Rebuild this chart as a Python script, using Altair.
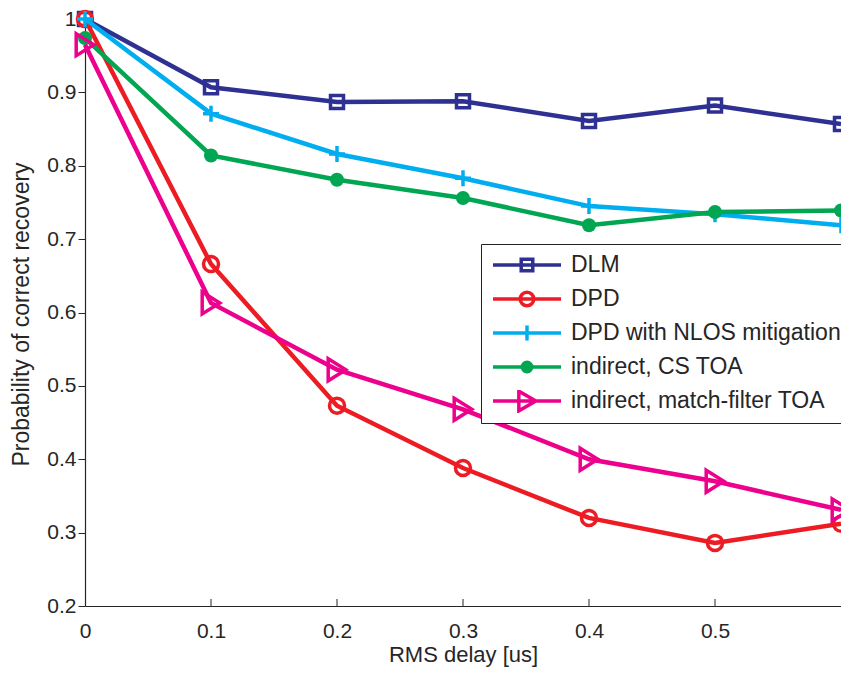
import altair as alt
import pandas as pd

# ---------------- data ----------------
x_vals = [0.0, 0.1, 0.2, 0.3, 0.4, 0.5, 0.6]
series_names = ["DLM", "DPD", "DPD with NLOS mitigation",
                "indirect, CS TOA", "indirect, match-filter TOA"]
dlm = [1.0, 0.907, 0.887, 0.888, 0.861, 0.882, 0.857]
dpd = [1.0, 0.666, 0.473, 0.388, 0.320, 0.286, 0.312]
nlos = [1.0, 0.871, 0.816, 0.783, 0.745, 0.734, 0.719]
cs_toa = [0.974, 0.814, 0.781, 0.756, 0.719, 0.737, 0.739]
mf_toa = [0.965, 0.613, 0.522, 0.468, 0.400, 0.370, 0.331]
x_ticks = [0.0, 0.1, 0.2, 0.3, 0.4, 0.5]
y_ticks = [0.2, 0.3, 0.4, 0.5, 0.6, 0.7, 0.8, 0.9, 1.0]

colors = ["#2E3192", "#ED1C24", "#00AEEF", "#00A651", "#EC008C"]

values = [dlm, dpd, nlos, cs_toa, mf_toa]
rows = []
for name, ys in zip(series_names, values):
    for xv, yv in zip(x_vals, ys):
        rows.append({"x": xv, "y": yv, "series": name})
df = pd.DataFrame(rows)
legend_df = pd.DataFrame({"series": series_names})
tick_df = pd.DataFrame({"x": x_ticks[1:]})

# ---------------- styles ----------------
FONT = "Liberation Sans"
TXT = "#262626"
PLOT_W, PLOT_H = 756, 587

cross_path = "M-1,0H1M0,-1V1"
tri_path = "M-0.8,-1L0.8,0L-0.8,1Z"
marker_styles = [
    dict(shape="square", filled=False, size=169),
    dict(shape="circle", filled=False, size=225),
    dict(shape=cross_path, filled=False, size=256),
    dict(shape="circle", filled=True, size=196),
    dict(shape=tri_path, filled=False, size=484),
]

line_p = "M-1,0H1"
legend_paths = [
    line_p + "M-0.17,-0.17H0.17V0.17H-0.17Z",
    line_p + "M0.2,0A0.2,0.2 0 1,1 -0.2,0A0.2,0.2 0 1,1 0.2,0Z",
    line_p + "M0,-0.22V0.22",
    line_p + "M0.05,0A0.05,0.05 0 1,1 -0.05,0A0.05,0.05 0 1,1 0.05,0Z"
             "M0.14,0A0.14,0.14 0 1,1 -0.14,0A0.14,0.14 0 1,1 0.14,0Z",
    line_p + "M-0.24,-0.29L0.26,0L-0.24,0.29Z",
]

xscale = alt.Scale(domain=[0, 0.6], nice=False, zero=False)
yscale = alt.Scale(domain=[0.2, 1.0], nice=False, zero=False)

xaxis = alt.Axis(
    title="RMS delay [us]", values=x_ticks, format="~g", grid=False,
    ticks=False, labelPadding=14, labelFlush=False, labelFontSize=21,
    labelFont=FONT, labelColor=TXT, titleFont=FONT, titleFontSize=22,
    titleFontWeight="normal", titleColor=TXT, titleY=55,
    titleBaseline="alphabetic", domainColor=TXT, domainWidth=1.2,
)
yaxis = alt.Axis(
    title="Probability of correct recovery", values=y_ticks, format="~g",
    grid=False, tickSize=7, tickColor=TXT, tickWidth=1, labelPadding=2,
    labelFlush=False, labelFontSize=21, labelFont=FONT, labelColor=TXT,
    titleFont=FONT, titleFontSize=23, titleFontWeight="normal",
    titleColor=TXT, titleX=-52, titleY=295, domainColor=TXT, domainWidth=1.2,
)

base = alt.Chart(df).encode(
    x=alt.X("x:Q", scale=xscale, axis=xaxis),
    y=alt.Y("y:Q", scale=yscale, axis=yaxis),
)

layers = []
for name, col, st in zip(series_names, colors, marker_styles):
    sub = base.transform_filter(alt.datum.series == name)
    layers.append(sub.mark_line(strokeWidth=4.5, color=col))
    layers.append(sub.mark_point(shape=st["shape"], filled=st["filled"],
                                 size=st["size"], strokeWidth=3.5,
                                 opacity=1, color=col))

ticks_layer = alt.Chart(tick_df).mark_rule(color=TXT, strokeWidth=1).encode(
    x=alt.X("x:Q", scale=xscale, axis=xaxis),
    y=alt.value(PLOT_H), y2=alt.value(PLOT_H - 7),
)

legend_layer = alt.Chart(legend_df).mark_point(
    filled=False, opacity=1, strokeWidth=3.5, clip=True
).encode(
    x=alt.value(-300), y=alt.value(-300),
    color=alt.Color("series:N",
                    scale=alt.Scale(domain=series_names, range=colors),
                    legend=alt.Legend(title=None)),
    shape=alt.Shape("series:N",
                    scale=alt.Scale(domain=series_names, range=legend_paths),
                    legend=alt.Legend(title=None)),
)

chart = alt.layer(ticks_layer, *layers, legend_layer).properties(
    width=PLOT_W, height=PLOT_H,
    autosize=alt.AutoSizeParams(type="none"),
    padding={"left": 77, "top": 11, "right": 0, "bottom": 61},
    background="white",
).configure_view(stroke=None).configure_legend(
    orient="none", legendX=396, legendY=225, padding=10,
    strokeColor="#222222", fillColor="white",
    symbolSize=4624, symbolStrokeWidth=3.5, symbolOffset=0,
    labelFont=FONT, labelFontSize=23, labelColor=TXT, labelOffset=8,
    labelLimit=400, rowPadding=11, clipHeight=22,
)

chart.save("out.html", embed_options={"renderer": "svg", "actions": False})
